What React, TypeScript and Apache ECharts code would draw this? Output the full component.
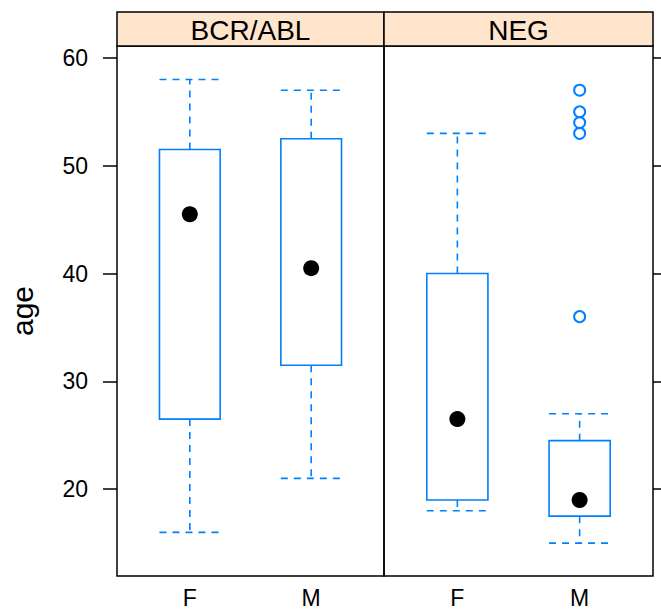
import React, { useEffect, useRef } from "react";
import * as echarts from "echarts";

// ---- data ----
const panels = ["BCR/ABL", "NEG"];
const sexes = ["F", "M"];
const lowerWhisker = [
  [16, 21],
  [18, 15],
];
const lowerQuartile = [
  [26.5, 31.5],
  [19, 17.5],
];
const medians = [
  [45.5, 40.5],
  [26.5, 19],
];
const upperQuartile = [
  [51.5, 52.5],
  [40, 24.5],
];
const upperWhisker = [
  [58, 57],
  [53, 27],
];
const outliers = [
  [[], []],
  [[], [36, 53, 54, 55, 57]],
];
const yTicks = [20, 30, 40, 50, 60];

const BLUE = "#0080ff";
const FONT = "Liberation Sans, Arial, Helvetica, sans-serif";

export default function App() {
  const ref = useRef<HTMLDivElement>(null);
  useEffect(() => {
    if (!ref.current) return;
    const chart = echarts.init(ref.current, null, { renderer: "svg" });

    const plotTop = 46;
    const plotBottom = 576;
    const stripTop = 12;
    const panelLefts = [117, 384];
    const panelRights = [384, 653];

    const grids = panels.map((_, i) => ({
      left: panelLefts[i],
      width: panelRights[i] - panelLefts[i],
      top: plotTop,
      height: plotBottom - plotTop,
      show: true,
      borderColor: "#000",
      borderWidth: 1.5,
      backgroundColor: "transparent",
    }));

    const xAxes = panels.map((_, i) => ({
      type: "value",
      gridIndex: i,
      min: 0.4,
      max: 2.6,
      splitLine: { show: false },
      axisLine: { show: false },
      axisTick: { show: false },
      axisLabel: {
        customValues: sexes.map((_, j) => j + 1),
        formatter: (v: number) => sexes[Math.round(v) - 1] ?? "",
        fontSize: 23,
        color: "#000",
        fontFamily: FONT,
        margin: 10,
      },
    }));

    const yAxes = panels.map((_, i) => ({
      type: "value",
      gridIndex: i,
      min: 11.95,
      max: 61.1,
      position: i === 0 ? "left" : "right",
      name: i === 0 ? "age" : "",
      nameLocation: "middle",
      nameGap: 80,
      nameTextStyle: { fontSize: 30, color: "#000", fontFamily: FONT },
      splitLine: { show: false },
      axisLine: { show: false },
      axisTick: {
        show: true,
        customValues: yTicks,
        length: 14,
        lineStyle: { color: "#000", width: 1.5 },
      },
      axisLabel: {
        show: i === 0,
        customValues: yTicks,
        fontSize: 23,
        color: "#000",
        fontFamily: FONT,
        margin: 29,
      },
    }));

    const series: any[] = [];
    panels.forEach((_, p) => {
      const boxData = sexes.map((_, s) => [
        s + 1,
        lowerWhisker[p][s],
        lowerQuartile[p][s],
        medians[p][s],
        upperQuartile[p][s],
        upperWhisker[p][s],
      ]);
      series.push({
        type: "custom",
        xAxisIndex: p,
        yAxisIndex: p,
        clip: false,
        data: boxData,
        renderItem: (params: any, api: any) => {
          const x = api.value(0);
          const lo = api.coord([x, api.value(1)]);
          const q1 = api.coord([x, api.value(2)]);
          const q3 = api.coord([x, api.value(4)]);
          const hi = api.coord([x, api.value(5)]);
          const hw = api.size([0.25, 0])[0];
          const cx = q1[0];
          const dashed = {
            stroke: BLUE,
            lineWidth: 1.6,
            lineDash: [7, 6],
            fill: null,
          };
          return {
            type: "group",
            children: [
              {
                type: "line",
                shape: { x1: cx, y1: q3[1], x2: cx, y2: hi[1] },
                style: dashed,
              },
              {
                type: "line",
                shape: { x1: cx, y1: q1[1], x2: cx, y2: lo[1] },
                style: dashed,
              },
              {
                type: "line",
                shape: { x1: cx - hw, y1: hi[1], x2: cx + hw, y2: hi[1] },
                style: dashed,
              },
              {
                type: "line",
                shape: { x1: cx - hw, y1: lo[1], x2: cx + hw, y2: lo[1] },
                style: dashed,
              },
              {
                type: "rect",
                shape: {
                  x: cx - hw,
                  y: q3[1],
                  width: hw * 2,
                  height: q1[1] - q3[1],
                },
                style: { stroke: BLUE, lineWidth: 1.6, fill: null },
              },
            ],
          };
        },
      });
      series.push({
        type: "scatter",
        xAxisIndex: p,
        yAxisIndex: p,
        symbol: "circle",
        symbolSize: 16,
        itemStyle: { color: "#000", opacity: 1 },
        data: sexes.map((_, s) => [s + 1, medians[p][s]]),
        z: 5,
      });
      const out: number[][] = [];
      sexes.forEach((_, s) => {
        outliers[p][s].forEach((v) => out.push([s + 1, v]));
      });
      series.push({
        type: "scatter",
        xAxisIndex: p,
        yAxisIndex: p,
        symbol: "circle",
        symbolSize: 11,
        itemStyle: {
          color: "rgba(255,255,255,0)",
          borderColor: BLUE,
          borderWidth: 2,
          opacity: 1,
        },
        data: out,
        z: 4,
      });
    });

    const graphic: any[] = [];
    panels.forEach((name, i) => {
      graphic.push({
        type: "rect",
        shape: {
          x: panelLefts[i],
          y: stripTop,
          width: panelRights[i] - panelLefts[i],
          height: plotTop - stripTop,
        },
        style: { fill: "#ffe5cc", stroke: "#000", lineWidth: 1.5 },
        z: 10,
      });
      graphic.push({
        type: "text",
        x: (panelLefts[i] + panelRights[i]) / 2,
        y: (stripTop + plotTop) / 2 + 1,
        style: {
          text: name,
          fontSize: 28,
          fontFamily: FONT,
          fill: "#000",
          align: "center",
          verticalAlign: "middle",
        },
        z: 11,
      });
    });

    chart.setOption({
      animation: false,
      backgroundColor: "#fff",
      grid: grids,
      xAxis: xAxes,
      yAxis: yAxes,
      series,
      graphic,
    });
    return () => chart.dispose();
  }, []);
  return (
    <div
      ref={ref}
      style={{ position: "fixed", left: 0, top: 0, width: 661, height: 615 }}
    />
  );
}
